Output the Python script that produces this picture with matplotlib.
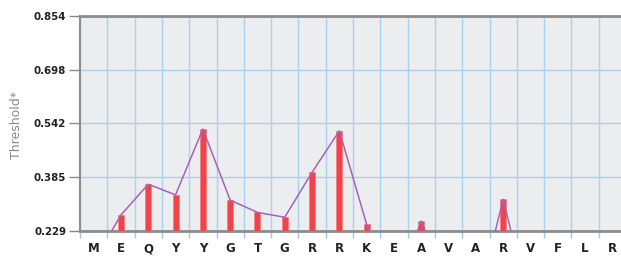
import matplotlib
matplotlib.use("Agg")
import matplotlib.pyplot as plt
import numpy as np

residues = ["M", "E", "Q", "Y", "Y", "G", "T", "G", "R", "R",
            "K", "E", "A", "V", "A", "R", "V", "F", "L", "R"]
scores = [0.14, 0.2755, 0.365, 0.334, 0.5255, 0.319, 0.283, 0.269, 0.3996, 0.52,
          0.2485, 0.05, 0.258, 0.07, 0.0, 0.321, 0.0, 0.0, 0.0, 0.0]
yticks = [0.229, 0.385, 0.542, 0.698, 0.854]

W, H = 621, 258
fig = plt.figure(figsize=(W / 100, H / 100), dpi=100)
ax = fig.add_axes([80 / W, (H - 231) / H, 546 / W, 215 / H])
ax.set_facecolor("#ecedef")

x = np.arange(len(residues))
ax.bar(x, scores, width=0.22, color="#f2434a", edgecolor="#f77a80",
       linewidth=0.5, zorder=3)
ax.plot(x, scores, color="#a861b8", lw=1.1, zorder=4)

ax.set_xlim(-0.5, len(residues) - 0.5)
ax.set_ylim(yticks[0], yticks[-1])
ax.set_yticks(yticks)
ax.set_yticklabels([f"{v:.3f}" for v in yticks], fontsize=7.4,
                   fontweight="bold", color="#222222")
ax.set_xticks(x)
ax.set_xticklabels(residues, fontsize=8.5, fontweight="bold", color="#222222")
ax.set_xticks(np.arange(len(residues) + 1) - 0.5, minor=True)

ax.tick_params(axis="x", which="major", length=0, pad=8)
ax.tick_params(axis="x", which="minor", length=5, color="#9cc6ea", width=1)
ax.tick_params(axis="y", which="major", length=8, color="#8a8a8a", width=1, pad=2)

ax.grid(True, which="minor", axis="x", color="#a9d1f2", lw=1.0, zorder=0)
ax.grid(True, which="major", axis="y", color="#a9d1f2", lw=1.0, zorder=0)
ax.grid(False, which="major", axis="x")
ax.set_axisbelow(True)

for side in ["top", "bottom"]:
    ax.spines[side].set_color("#8c8c8c")
    ax.spines[side].set_linewidth(2)
ax.spines["left"].set_color("#8c8c8c")
ax.spines["left"].set_linewidth(1.5)
ax.spines["right"].set_visible(False)

fig.text(17 / W, 1 - 125 / H, "Threshold*", rotation=90, fontsize=9,
         color="#8a8a8a", ha="center", va="center")

fig.savefig("out.png", dpi=100)
